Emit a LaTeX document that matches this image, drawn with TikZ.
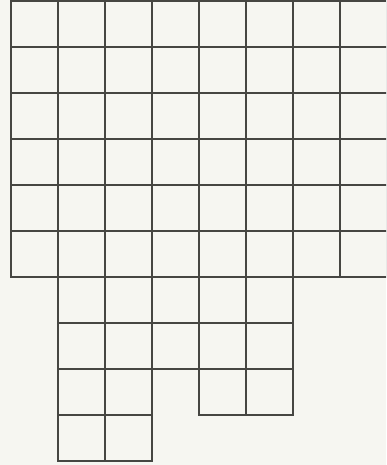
\documentclass[tikz,border=0pt]{standalone}
\usepackage{tikz}
\definecolor{paper}{RGB}{246,246,241}
\definecolor{ink}{RGB}{70,70,66}
\tikzset{cell/.style={draw=ink,line width=0.9pt}}

\begin{document}
\begin{tikzpicture}[x=1cm,y=0.9787cm]
    \fill[paper] (-0.234,0.022) rectangle (7.979,-10.087);
    \useasboundingbox (-0.234,0.022) rectangle (7.979,-10.087);
    \clip (-0.234,0.022) rectangle (7.979,-10.087);
    % full rows on top
    \foreach \r in {1,...,6}
      \foreach \c in {1,...,8}
        \draw[cell] (\c-1,-\r+1) rectangle (\c,-\r);
    % shorter rows below
    \foreach \r/\cols in {7/{2,3,4,5,6}, 8/{2,3,4,5,6}, 9/{2,3,5,6}, 10/{2,3}}
      \foreach \c in \cols
        \draw[cell] (\c-1,-\r+1) rectangle (\c,-\r);
  \end{tikzpicture}
\end{document}
